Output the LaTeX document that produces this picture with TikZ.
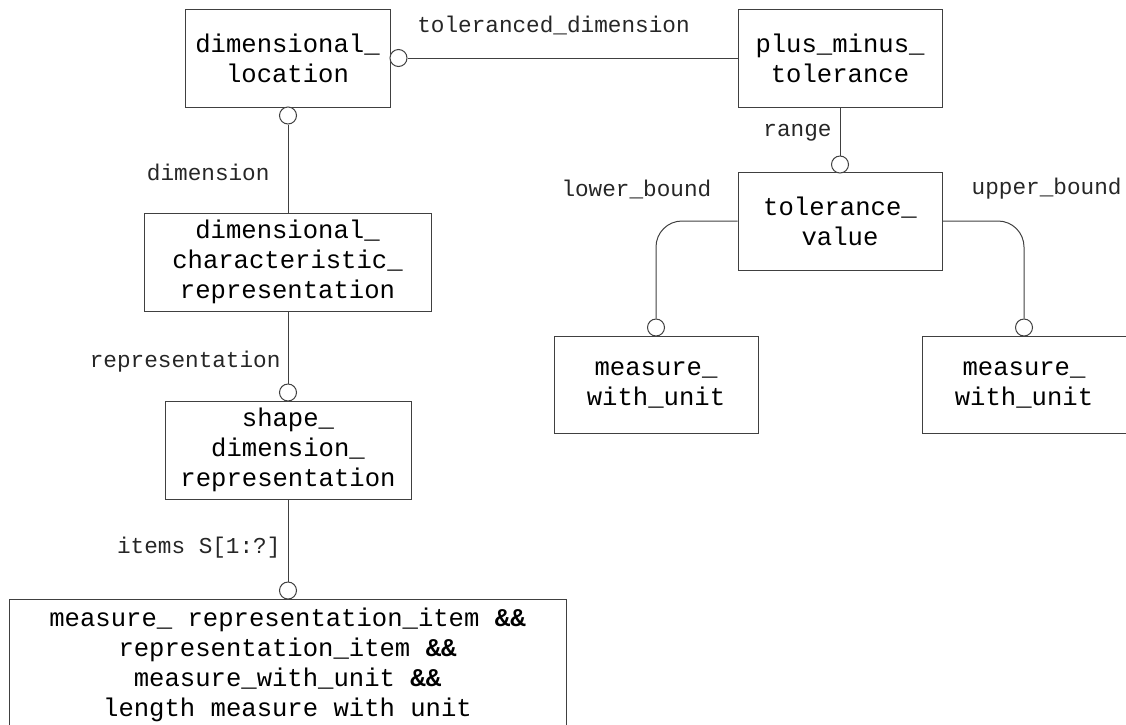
\documentclass[tikz,border=0pt]{standalone}
\usepackage{fontspec}
\setmainfont{Liberation Mono}
\newfontfamily\boxmono{Liberation Mono}
\begin{document}
\begin{tikzpicture}[x=1pt,y=-1pt,
  line width=1pt,
  ebox/.style={draw=black!75, fill=white, align=center, inner sep=0pt,
    font=\fontsize{25.6pt}{30pt}\selectfont},
  ring/.style={draw=black!75, fill=white, circle, inner sep=0pt, minimum size=17pt},
  lbl/.style={inner sep=0pt, font=\fontsize{22.7pt}{27pt}\selectfont, text=black!85},
  conn/.style={draw=black!75}]
\clip (0,0) rectangle (1126,724);
\useasboundingbox (0,0) rectangle (1126,724);

% boxes
\node[ebox, minimum width=205pt, minimum height=98pt] (dl) at (287.5,58) {dimensional\_\\location};
\node[ebox, minimum width=204pt, minimum height=98pt] (pmt) at (840,58) {plus\_minus\_\\tolerance};
\node[ebox, minimum width=204pt, minimum height=98pt] (tv) at (840,221) {tolerance\_\\value};
\node[ebox, minimum width=204pt, minimum height=97pt] (mwa) at (656,384.5) {measure\_\\with\_unit};
\node[ebox, minimum width=204pt, minimum height=97pt] (mwb) at (1024,384.5) {measure\_\\with\_unit};
\node[ebox, minimum width=287pt, minimum height=98pt] (dcr) at (287.5,262) {dimensional\_\\characteristic\_\\representation};
\node[ebox, minimum width=246pt, minimum height=98pt] (sdr) at (288,450) {shape\_\\dimension\_\\representation};
\node[ebox, minimum width=557pt, minimum height=132pt] (mri) at (287.5,665) {measure\_ representation\_item \textbf{\&\&}\\representation\_item \textbf{\&\&}\\measure\_with\_unit \textbf{\&\&}\\length measure with unit};

% rings
\node[ring] (r1) at (398.5,58) {};
\node[ring] (r2) at (288,115.5) {};
\node[ring] (r3) at (840,164.5) {};
\node[ring] (r4) at (656,327.5) {};
\node[ring] (r5) at (1024,327.5) {};
\node[ring] (r6) at (288,392.5) {};
\node[ring] (r7) at (288,590.5) {};

% connectors
\draw[conn] (r1.east) -- (pmt.west);
\draw[conn] (pmt.south) -- (r3.north);
\draw[conn] (r2.south) -- (dcr.north -| r2);
\draw[conn] (dcr.south -| r6) -- (r6.north);
\draw[conn] (sdr.south -| r7) -- (r7.north);
\draw[conn, rounded corners=26pt] (tv.west) -| (r4.north);
\draw[conn, rounded corners=26pt] (tv.east) -| (r5.north);

% labels
\node[lbl] (l1) at (553.5,25) {toleranced\_dimension};
\node[lbl, anchor=east] (l2) at (270,172) {dimension};
\node[lbl, anchor=east] (l3) at (281,362) {representation};
\node[lbl, anchor=east] (l4) at (281,548) {items S[1:?]};
\node[lbl, anchor=east] (l5) at (832,133) {range};
\node[lbl, anchor=west] (l6) at (561,189) {lower\_bound};
\node[lbl, anchor=east] (l7) at (1122,189) {upper\_bound};
\end{tikzpicture}
\end{document}
